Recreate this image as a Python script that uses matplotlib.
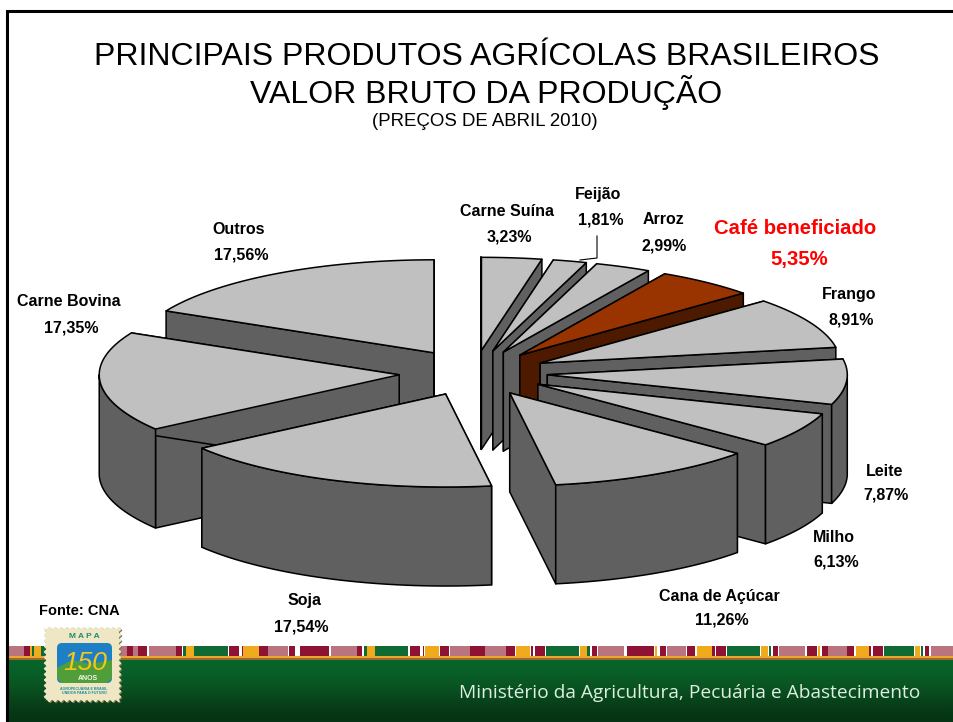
# grafico de pizza 3D explodida - valor bruto da producao
import numpy as np
import matplotlib
matplotlib.use('Agg')
import matplotlib.pyplot as plt
from matplotlib.patches import Polygon, Rectangle, FancyBboxPatch

plt.rcParams['font.family'] = ['Liberation Sans', 'DejaVu Sans']

# dados, no sentido horario a partir das 12 horas
produtos = ['Carne Suína', 'Feijão', 'Arroz', 'Café beneficiado', 'Frango', 'Leite',
            'Milho', 'Cana de Açúcar', 'Soja', 'Carne Bovina', 'Outros']
valores = [3.23, 1.81, 2.99, 5.35, 8.91, 7.87, 6.13, 11.26, 17.54, 17.35, 17.56]

# posicao dos rotulos (nome, valor)
pos_nome = [(507, 212), (598, 195), (663, 219), (795, 229), (849, 294), (885, 471),
            (834, 538), (719, 596), (305, 601), (69, 302), (239, 230)]
pos_valor = [(509, 237), (601, 220), (664, 246), (799, 260), (851, 320), (886, 495),
             (836, 562), (722, 620), (301, 627), (71, 328), (241, 255)]

# geometria da pizza, em pixels
cx, cy = 474, 373
rx, ry = 300, 93
altura = 99
explode = [0.245, 0.245, 0.245, 0.245, 0.245, 0.245, 0.245, 0.245, 0.245, 0.25, 0.255]

cinza = '#c0c0c0'
cinza_lado = '#606060'
cafe = '#993300'
cafe_lado = '#4d1a00'

fig = plt.figure(figsize=(9.54, 7.22), dpi=100)
ax = fig.add_axes([0, 0, 1, 1])
ax.set_xlim(0, 954)
ax.set_ylim(722, 0)
ax.axis('off')


def ponto(x0, y0, ang):
    return x0 + rx * np.sin(ang), y0 - ry * np.cos(ang)


def fatia(i, ini, fim):
    a0, a1 = np.radians(ini), np.radians(fim)
    meio = (a0 + a1) / 2
    x0 = cx + explode[i] * rx * np.sin(meio)
    y0 = cy - explode[i] * ry * np.cos(meio)
    topo = cafe if i == 3 else cinza
    lado = cafe_lado if i == 3 else cinza_lado
    estilo = dict(ec='black', lw=1.1, joinstyle='round')
    # faces radiais
    for a in (a0, a1):
        xa, ya = ponto(x0, y0, a)
        ax.add_patch(Polygon([(x0, y0), (xa, ya), (xa, ya + altura), (x0, y0 + altura)],
                             fc=lado, **estilo))
    # parede externa, so a parte da frente
    v0, v1 = max(a0, np.pi / 2), min(a1, 3 * np.pi / 2)
    if v1 > v0:
        t = np.linspace(v0, v1, 40)
        xs, ys = ponto(x0, y0, t)
        pts = list(zip(xs, ys)) + list(zip(xs[::-1], ys[::-1] + altura))
        ax.add_patch(Polygon(pts, fc=lado, **estilo))
    # tampa
    t = np.linspace(a0, a1, 60)
    xs, ys = ponto(x0, y0, t)
    ax.add_patch(Polygon([(x0, y0)] + list(zip(xs, ys)), fc=topo, **estilo))


# angulos de cada fatia
acum = np.cumsum([0] + valores)
angulos = 360 * acum / acum[-1]

# ordem de desenho: de tras para frente
for i in [10, 0, 1, 2, 3, 4, 5, 6, 9, 7, 8]:
    fatia(i, angulos[i], angulos[i + 1])

# linha guia do feijao
ax.plot([597, 597, 580], [236, 258, 260], color='black', lw=0.8)

# rotulos
for i, nome in enumerate(produtos):
    texto = f'{valores[i]:.2f}'.replace('.', ',') + '%'
    cor = 'red' if i == 3 else 'black'
    tam = 14.6 if i == 3 else 11.5
    ax.text(*pos_nome[i], nome, ha='center', va='center', color=cor, fontsize=tam, fontweight='bold')
    ax.text(*pos_valor[i], texto, ha='center', va='center', color=cor, fontsize=tam, fontweight='bold')

# titulo
ax.text(486.5, 57, 'PRINCIPAIS PRODUTOS AGRÍCOLAS BRASILEIROS', ha='center', va='center', fontsize=23)
ax.text(486.5, 92, 'VALOR BRUTO DA PRODUÇÃO', ha='center', va='center', fontsize=23)
ax.text(485, 122, '(PREÇOS DE ABRIL 2010)', ha='center', va='center', fontsize=13.4)
ax.text(79, 611, 'Fonte: CNA', ha='center', va='center', fontsize=10.5, fontweight='bold')

# moldura
ax.plot([954, 7.5, 7.5], [10.5, 10.5, 722], color='black', lw=2.2, solid_joinstyle='miter', zorder=8)

# faixa verde do rodape
grad = np.array([[[8, 100, 42]], [[10, 88, 36]], [[8, 70, 28]], [[6, 52, 20]]], dtype=np.uint8)
ax.imshow(grad, extent=(9, 954, 722, 659), aspect='auto', interpolation='bicubic', zorder=3)
ax.set_xlim(0, 954)
ax.set_ylim(722, 0)
ax.add_patch(Rectangle((9, 656), 945, 2.4, fc='#eda52f', ec='none', zorder=3))
ax.add_patch(Rectangle((9, 658.4), 945, 1.2, fc='#9a6a2a', ec='none', zorder=3))

# faixa colorida
rosa = [(9, 24), (120, 127), (133, 138), (149, 176), (268, 288), (331, 357), (450, 470), (485, 506),
        (598, 624), (667, 686), (779, 805), (828, 847), (931, 954)]
vinho = [(24, 30), (127, 133), (138, 147), (176, 182), (229, 239), (242, 243), (259, 268), (289, 295),
         (300, 329), (357, 362), (410, 420), (423, 424), (440, 449), (470, 485), (506, 515), (531, 533),
         (535, 545), (592, 597), (627, 654), (660, 666), (687, 695), (712, 715), (716, 726), (773, 778),
         (807, 817), (822, 828), (847, 854), (869, 871), (873, 883), (925, 929)]
verde = [(32, 34), (41, 47), (183, 186), (194, 228), (364, 367), (375, 408), (546, 579), (587, 590),
         (727, 760), (769, 771), (884, 914), (921, 923)]
laranja = [(30, 32), (34, 41), (186, 194), (243, 259), (367, 375), (425, 439), (516, 530), (580, 587),
           (655, 657), (697, 712), (761, 768), (818, 820), (856, 869), (915, 920)]
for segs, cor in [(rosa, '#b9747f'), (vinho, '#8e1233'), (verde, '#0f6a34'), (laranja, '#f0ab1c')]:
    ax.broken_barh([(a, b - a) for a, b in segs], (646, 10), facecolors=cor, zorder=3)

ax.text(689.5, 693, 'Ministério da Agricultura, Pecuária e Abastecimento', ha='center', va='center',
        color='#dcefe0', fontsize=13.8, family='Open Sans', zorder=4)


# selo MAPA 150 anos
def serrilha(x0, x1, y0, y1, n=13, amp=1.2):
    lados = []
    for t in np.linspace(0, 1, 120, endpoint=False):
        lados.append((x0 + (x1 - x0) * t, y0 + amp * np.sin(2 * np.pi * n * t)))
    for t in np.linspace(0, 1, 120, endpoint=False):
        lados.append((x1 + amp * np.sin(2 * np.pi * n * t), y0 + (y1 - y0) * t))
    for t in np.linspace(0, 1, 120, endpoint=False):
        lados.append((x1 - (x1 - x0) * t, y1 + amp * np.sin(2 * np.pi * n * t)))
    for t in np.linspace(0, 1, 120, endpoint=False):
        lados.append((x0 + amp * np.sin(2 * np.pi * n * t), y1 - (y1 - y0) * t))
    return lados


ax.add_patch(Polygon(serrilha(46, 121, 629, 702), fc='#7d7a50', ec='none', zorder=5))
ax.add_patch(Polygon(serrilha(45, 120, 628, 701), fc='#efe6c4', ec='none', zorder=5))
azul = FancyBboxPatch((57, 643), 55, 40, boxstyle='round,pad=0,rounding_size=5', fc='#1f7fc4', ec='none', zorder=6)
ax.add_patch(azul)
campo = Polygon([(57, 668), (72, 660), (90, 664), (112, 660), (112, 678), (107, 683), (62, 683), (57, 678)],
                fc='#4f9e3a', ec='none', zorder=6)
ax.add_patch(campo)
ax.text(84, 637, 'M A P A', ha='center', va='center', fontsize=6, fontweight='bold', color='#1d8a78', zorder=7)
ax.text(85, 663, '150', ha='center', va='center', fontsize=19, style='italic', color='#f5c71a', zorder=7)
ax.text(88, 678, 'ANOS', ha='center', va='center', fontsize=5, fontweight='bold', color='#f4f4e8', zorder=7)
ax.text(84, 689, 'AGROPECUÁRIA E BRASIL', ha='center', va='center', fontsize=2.6, fontweight='bold', color='#1d8a9a', zorder=7)
ax.text(84, 693, 'UNIDOS PARA O FUTURO', ha='center', va='center', fontsize=2.6, fontweight='bold', color='#1d8a9a', zorder=7)

fig.savefig('out.png', dpi=100)
